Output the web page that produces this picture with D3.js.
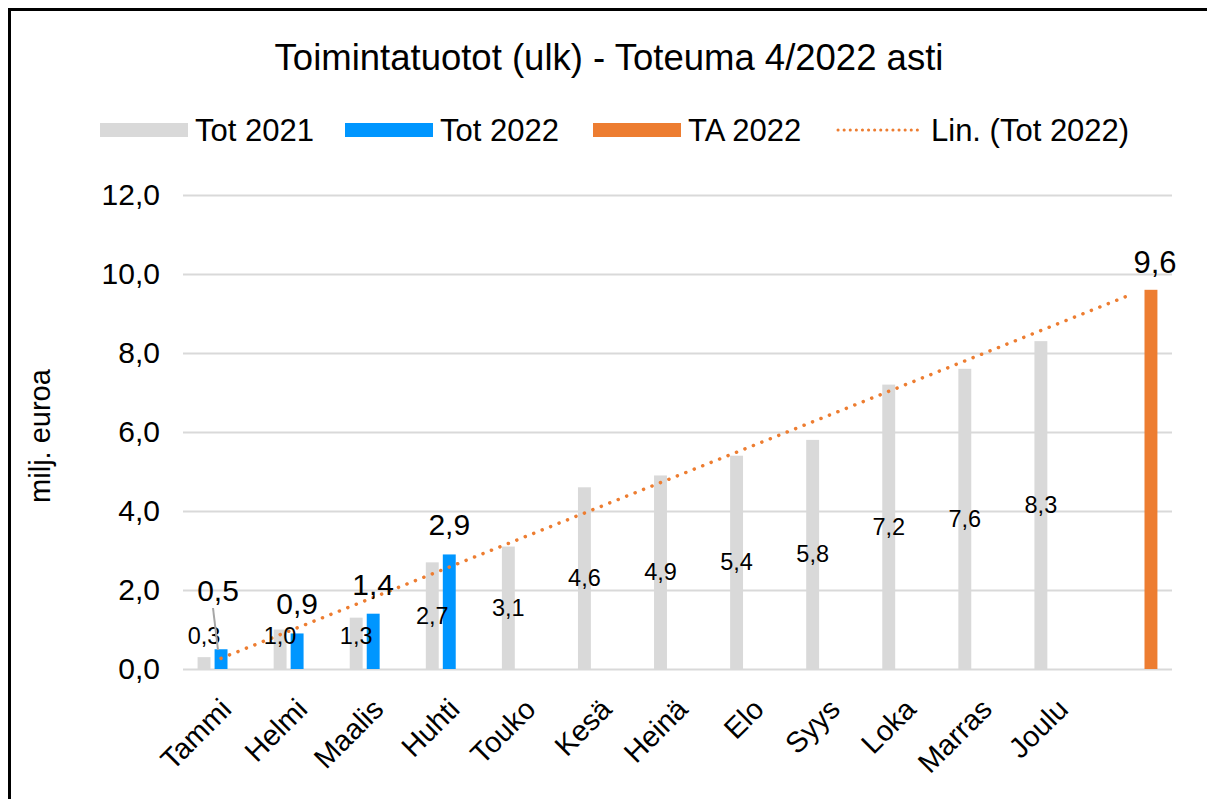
<!DOCTYPE html>
<html>
<head>
<meta charset="utf-8">
<script src="https://cdn.jsdelivr.net/npm/d3@7"></script>
<style>
  body { margin: 0; background: #fff; }
  text { font-family: "Liberation Sans", Arial, sans-serif; fill: #000; }
</style>
</head>
<body>
<div id="chart"></div>
<script>
(function(){
    // Data
    const months = ["Tammi", "Helmi", "Maalis", "Huhti", "Touko", "Kesä", "Heinä", "Elo", "Syys", "Loka", "Marras", "Joulu", ""];
    const tot2021 = [0.3, 1.0, 1.3, 2.7, 3.1, 4.6, 4.9, 5.4, 5.8, 7.2, 7.6, 8.3];
    const tot2022 = [0.5, 0.9, 1.4, 2.9];
    const ta2022 = [null, null, null, null, null, null, null, null, null, null, null, null, 9.6];
    const yTicks = [0, 2, 4, 6, 8, 10, 12];
    const seriesNames = ["Tot 2021", "Tot 2022", "TA 2022"];

    const width = 1207, height = 799;
    const fmt = v => d3.format(".1f")(v).replace(".", ",");

    const svg = d3.select("#chart").append("svg")
        .attr("width", width)
        .attr("height", height);

    // outer frame
    svg.append("rect")
        .attr("x", 9.5).attr("y", 9.5)
        .attr("width", 1220).attr("height", 820)
        .attr("fill", "none").attr("stroke", "#000").attr("stroke-width", 3);

    // Scales
    const x = d3.scaleBand().domain(months.map((m, i) => i)).range([183, 1172]);
    const bw = x.bandwidth();
    const xs = d3.scaleBand().domain(seriesNames)
        .range([bw / 2 - 25.5, bw / 2 + 25.5]).paddingInner(0.24).paddingOuter(0.12);
    const y = d3.scaleLinear().domain([0, 12]).range([669, 195]);

    // Title
    svg.append("text")
        .attr("x", 609).attr("y", 70)
        .attr("text-anchor", "middle")
        .attr("font-size", 36.5)
        .text("Toimintatuotot (ulk) - Toteuma 4/2022 asti");

    // Gridlines
    svg.append("g")
        .attr("transform", "translate(183,0)")
        .call(d3.axisLeft(y).tickValues(yTicks).tickSize(-(1172 - 183)).tickFormat(""))
        .call(g => g.select(".domain").remove())
        .call(g => g.selectAll("line").attr("stroke", "#d9d9d9").attr("stroke-width", 2));

    // Y axis labels
    svg.append("g")
        .attr("transform", "translate(183,0)")
        .call(d3.axisLeft(y).tickValues(yTicks).tickSize(0).tickPadding(23).tickFormat(fmt))
        .call(g => g.select(".domain").remove())
        .call(g => g.selectAll("text").attr("font-size", 30)
            .style("font-family", "'Liberation Sans', Arial, sans-serif"));

    svg.append("text")
        .attr("transform", "translate(50,436) rotate(-90)")
        .attr("text-anchor", "middle")
        .attr("font-size", 29)
        .text("milj. euroa");

    // X axis labels
    svg.append("g")
        .attr("transform", "translate(0,669)")
        .call(d3.axisBottom(x).tickSize(0).tickFormat(i => months[i]))
        .call(g => g.select(".domain").remove())
        .call(g => g.selectAll("text")
            .attr("font-size", 29)
            .style("font-family", "'Liberation Sans', Arial, sans-serif")
            .attr("text-anchor", "end")
            .attr("dy", null)
            .attr("y", 0)
            .attr("transform", "translate(12,42) rotate(-45)"));

    const bars = svg.append("g");

    // Tot 2021
    bars.selectAll("rect.t21").data(tot2021).enter().append("rect")
        .attr("x", (d, i) => x(i) + xs("Tot 2021"))
        .attr("width", xs.bandwidth())
        .attr("y", d => y(d))
        .attr("height", d => y(0) - y(d))
        .attr("fill", "#d9d9d9");

    // Tot 2022
    bars.selectAll("rect.t22").data(tot2022).enter().append("rect")
        .attr("x", (d, i) => x(i) + xs("Tot 2022"))
        .attr("width", xs.bandwidth())
        .attr("y", d => y(d))
        .attr("height", d => y(0) - y(d))
        .attr("fill", "#0096ff");

    // TA 2022
    const ta = ta2022.map((v, i) => ({ v, i })).filter(d => d.v != null);
    bars.selectAll("rect.ta").data(ta).enter().append("rect")
        .attr("x", d => x(d.i) + xs("TA 2022"))
        .attr("width", xs.bandwidth())
        .attr("y", d => y(d.v))
        .attr("height", d => y(0) - y(d.v))
        .attr("fill", "#ed7d31");

    // Linear trendline of Tot 2022, forecast forward to the last category
    const xm = d3.mean(tot2022, (d, i) => i);
    const ym = d3.mean(tot2022);
    const slope = d3.sum(tot2022, (d, i) => (i - xm) * (d - ym)) / d3.sum(tot2022, (d, i) => (i - xm) * (i - xm));
    const icpt = ym - slope * xm;
    const lastIdx = months.length - 1;
    const tEnd = lastIdx - 0.1;
    svg.append("line")
        .attr("x1", x(0) + bw / 2).attr("y1", y(icpt))
        .attr("x2", x(0) + bw / 2 + tEnd * x.step()).attr("y2", y(icpt + slope * tEnd))
        .attr("stroke", "#ed7d31")
        .attr("stroke-width", 3.5)
        .attr("stroke-linecap", "round")
        .attr("stroke-dasharray", "0.1 9");

    // Labels Tot 2021 (centered)
    svg.append("g").selectAll("text").data(tot2021).enter().append("text")
        .attr("x", (d, i) => x(i) + xs("Tot 2021") + xs.bandwidth() / 2)
        .attr("y", d => Math.min(y(d / 2), 636) + 8)
        .attr("text-anchor", "middle")
        .attr("font-size", 23.5)
        .text(fmt);

    // Labels Tot 2022 (outside end, larger)
    const lab22 = svg.append("g");
    lab22.append("line")
        .attr("x1", 213).attr("y1", 608)
        .attr("x2", 218).attr("y2", 650)
        .attr("stroke", "#a6a6a6").attr("stroke-width", 2);
    lab22.selectAll("text").data(tot2022).enter().append("text")
        .attr("x", (d, i) => x(i) + xs("Tot 2022") + xs.bandwidth() / 2 + (i === 0 ? -3 : 0))
        .attr("y", (d, i) => (i === 0 ? y(d) - 48 : y(d) - 19))
        .attr("text-anchor", "middle")
        .attr("font-size", 30)
        .text(fmt);

    svg.append("g").selectAll("text").data(ta).enter().append("text")
        .attr("x", d => x(d.i) + xs("TA 2022") + xs.bandwidth() / 2 + 4)
        .attr("y", d => y(d.v) - 17)
        .attr("text-anchor", "middle")
        .attr("font-size", 31)
        .text(d => fmt(d.v));

    // Legend
    const legend = svg.append("g").attr("transform", "translate(0,130)");
    const items = [
        { name: "Tot 2021", x: 100, color: "#d9d9d9", type: "rect" },
        { name: "Tot 2022", x: 345, color: "#0096ff", type: "rect" },
        { name: "TA 2022", x: 593, color: "#ed7d31", type: "rect" },
        { name: "Lin. (Tot 2022)", x: 836, color: "#ed7d31", type: "line" }
    ];
    items.forEach(it => {
        if (it.type === "rect") {
            legend.append("rect").attr("x", it.x).attr("y", -7).attr("width", 88).attr("height", 14).attr("fill", it.color);
        } else {
            legend.append("line").attr("x1", it.x + 2).attr("x2", it.x + 86).attr("y1", 0).attr("y2", 0)
                .attr("stroke", it.color).attr("stroke-width", 3).attr("stroke-linecap", "round")
                .attr("stroke-dasharray", "0.1 6");
        }
        legend.append("text").attr("x", it.x + 95).attr("y", 11).attr("font-size", 31).text(it.name);
    });
})();
</script>
</body>
</html>
